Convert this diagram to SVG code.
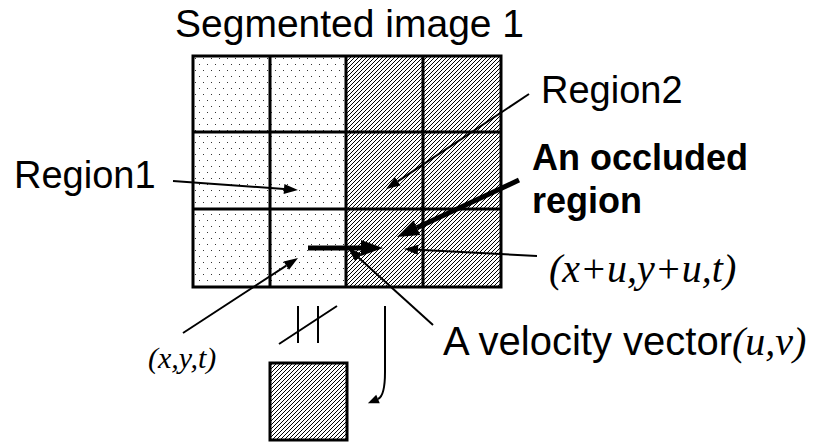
<svg xmlns="http://www.w3.org/2000/svg" width="819" height="446" viewBox="0 0 819 446">
<style>
.sans{font-family:"Liberation Sans",Arial,sans-serif;fill:#000}
.ital{font-family:"Liberation Serif","Times New Roman",serif;font-style:italic;fill:#000}
.grid{fill:none;stroke:#000;stroke-width:3}
.thin{fill:none;stroke:#000;stroke-width:2}
.thick{fill:none;stroke:#000;stroke-width:5}
</style>
<defs>
<pattern id="dots" patternUnits="userSpaceOnUse" x="193" y="56" width="8" height="12">
<rect width="8" height="12" fill="#fff"/>
<rect x="2" y="2" width="1" height="1" fill="#333"/>
<rect x="6" y="8" width="1" height="1" fill="#333"/>
</pattern>
<pattern id="hatch" patternUnits="userSpaceOnUse" width="4" height="4">
<rect width="4" height="4" fill="#fff"/>
<path d="M-1,1 L1,-1 M0,4 L4,0 M3,5 L5,3" stroke="#000" stroke-width="1"/>
</pattern>
<marker id="ah" markerUnits="userSpaceOnUse" markerWidth="14" markerHeight="10" refX="0" refY="5" orient="auto" overflow="visible">
<path d="M0,0 L14,5 L0,10 z" fill="#000"/>
</marker>
<marker id="ahs" markerUnits="userSpaceOnUse" markerWidth="11" markerHeight="9" refX="0" refY="4.5" orient="auto" overflow="visible">
<path d="M0,0 L11,4.5 L0,9 z" fill="#000"/>
</marker>
<marker id="ahb" markerUnits="userSpaceOnUse" markerWidth="22" markerHeight="16" refX="0" refY="8" orient="auto" overflow="visible">
<path d="M0,0 L22,8 L0,16 z" fill="#000"/>
</marker>
</defs>
<rect width="819" height="446" fill="#fff"/>

<g id="title"><text class="sans" x="175" y="37" font-size="39">Segmented image 1</text></g>

<g id="segmented-image">
<rect x="193" y="56" width="153" height="231" fill="url(#dots)"/>
<rect x="346" y="56" width="155" height="231" fill="url(#hatch)"/>
<rect class="grid" x="193" y="56" width="308" height="231"/>
<path class="grid" d="M270,56 V287 M346,56 V287 M423,56 V287 M193,132 H501 M193,209 H501"/>
</g>

<g id="next-block">
<rect x="270" y="363" width="77" height="77" fill="url(#hatch)" stroke="#000" stroke-width="3"/>
</g>

<g id="not-equal">
<path class="thin" d="M298,306 V343 M318,306 V343 M279,344 L337,306"/>
</g>

<g id="connectors">
<path class="thin" d="M173,181 L284,189" marker-end="url(#ah)"/>
<path class="thin" d="M529,94 L397.7,181.3" marker-end="url(#ah)"/>
<path class="thick" d="M519,180 L416.9,227.7" marker-end="url(#ahb)"/>
<path class="thin" d="M537,256 L418,249.7" marker-end="url(#ah)"/>
<path class="thick" d="M308,248 L361,248" marker-end="url(#ahb)"/>
<path class="thin" d="M433,325 L358.4,257.4" marker-end="url(#ah)"/>
<path class="thin" d="M183,333 L286.3,265.6" marker-end="url(#ah)"/>
<path class="thin" d="M385,306 V372 Q385,396 378,399" marker-end="url(#ahs)"/>
</g>

<g id="labels">
<text class="sans" x="14" y="188" font-size="38">Region1</text>
<text class="sans" x="541" y="103" font-size="38">Region2</text>
<text class="sans" x="532" y="170" font-size="36" font-weight="bold">An occluded</text>
<text class="sans" x="532" y="213" font-size="36" font-weight="bold">region</text>
<text class="ital" x="549" y="282" font-size="40">(x+u,y+u,t)</text>
<text x="443" y="355" font-size="40"><tspan class="sans">A velocity vector</tspan><tspan class="ital">(u,v)</tspan></text>
<text class="ital" x="148" y="368" font-size="30">(x,y,t)</text>
</g>
</svg>
